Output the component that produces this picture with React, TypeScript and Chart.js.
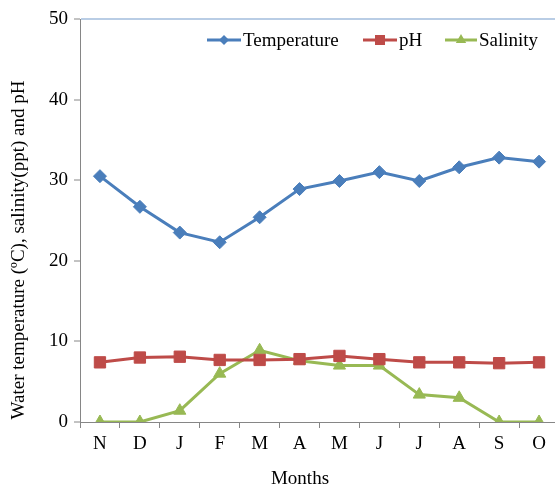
import React, { useEffect, useRef } from "react";
import { Chart, registerables } from "chart.js";

Chart.register(...registerables);

const months = ["N", "D", "J", "F", "M", "A", "M", "J", "J", "A", "S", "O"];
const temperature = [30.5, 26.7, 23.5, 22.3, 25.4, 28.9, 29.9, 31.0, 29.9, 31.6, 32.8, 32.3];
const pH = [7.4, 8.0, 8.1, 7.7, 7.7, 7.8, 8.2, 7.8, 7.4, 7.4, 7.3, 7.4];
const salinity = [0, 0, 1.4, 6.0, 8.9, 7.6, 7.0, 7.0, 3.4, 3.0, 0, 0];
const yTicks = [0, 10, 20, 30, 40, 50];

const X_TITLE = "Months";
const Y_TITLE = "Water temperature (\u00BAC), salinity(ppt) and pH";

const BLUE = "#4A7EBB";
const RED = "#BE4B48";
const GREEN = "#98B954";
const FONT = '"Liberation Serif", "Times New Roman", serif';

function drawMarker(ctx: CanvasRenderingContext2D, style: string, x: number, y: number, r: number) {
  ctx.beginPath();
  if (style === "diamond") {
    ctx.moveTo(x - r, y);
    ctx.lineTo(x, y - r);
    ctx.lineTo(x + r, y);
    ctx.lineTo(x, y + r);
  } else if (style === "square") {
    ctx.rect(x - r, y - r, 2 * r, 2 * r);
  } else {
    const a = (2 * Math.PI) / 3;
    ctx.moveTo(x, y - r);
    ctx.lineTo(x + Math.sin(a) * r, y - Math.cos(a) * r);
    ctx.lineTo(x + Math.sin(2 * a) * r, y - Math.cos(2 * a) * r);
  }
  ctx.closePath();
  ctx.fill();
}

const legendItems = [
  { text: "Temperature", color: BLUE, marker: "diamond", x0: 207, x1: 241, r: 5 },
  { text: "pH", color: RED, marker: "square", x0: 363, x1: 397, r: 5 },
  { text: "Salinity", color: GREEN, marker: "triangle", x0: 445, x1: 477, r: 6 },
];

const textPlugin = {
  id: "customText",
  afterDraw(chart: any) {
    const ctx: CanvasRenderingContext2D = chart.ctx;
    const area = chart.chartArea;
    ctx.save();
    ctx.font = `19px ${FONT}`;
    ctx.fillStyle = "#000";
    ctx.textAlign = "center";
    ctx.textBaseline = "middle";
    ctx.fillText(X_TITLE, 300, 479);
    ctx.save();
    ctx.translate(19, 250);
    ctx.rotate(-Math.PI / 2);
    ctx.fillText(Y_TITLE, 0, 0);
    ctx.restore();

    // legend
    const ly = area.top + 21;
    ctx.textAlign = "left";
    for (const it of legendItems) {
      ctx.strokeStyle = it.color;
      ctx.fillStyle = it.color;
      ctx.lineWidth = 3;
      ctx.beginPath();
      ctx.moveTo(it.x0, ly);
      ctx.lineTo(it.x1, ly);
      ctx.stroke();
      drawMarker(ctx, it.marker, (it.x0 + it.x1) / 2, ly, it.r);
      ctx.fillStyle = "#000";
      ctx.fillText(it.text, it.x1 + 2, ly + 1);
    }
    ctx.restore();
  },
};

export default function App() {
  const ref = useRef<HTMLCanvasElement | null>(null);
  useEffect(() => {
    if (!ref.current) return;
    const chart = new Chart(ref.current, {
      type: "line",
      data: {
        labels: months,
        datasets: [
          {
            label: "Temperature",
            data: temperature,
            borderColor: BLUE,
            backgroundColor: BLUE,
            borderWidth: 3,
            pointStyle: "rectRot",
            pointRadius: 6.5,
            pointBorderWidth: 1,
            tension: 0,
          },
          {
            label: "pH",
            data: pH,
            borderColor: RED,
            backgroundColor: RED,
            borderWidth: 3,
            pointStyle: "rect",
            pointRadius: 8,
            pointBorderWidth: 1,
            tension: 0,
          },
          {
            label: "Salinity",
            data: salinity,
            borderColor: GREEN,
            backgroundColor: GREEN,
            borderWidth: 3,
            pointStyle: "triangle",
            pointRadius: 7,
            pointBorderWidth: 1,
            tension: 0,
          },
        ],
      },
      options: {
        responsive: false,
        animation: false,
        layout: { padding: { left: 0, top: 19, right: 1, bottom: 0 } },
        plugins: {
          legend: { display: false },
          tooltip: { enabled: false },
        },
        scales: {
          x: {
            offset: true,
            grid: {
              offset: true,
              drawOnChartArea: false,
              drawTicks: true,
              tickLength: 6,
              tickColor: "#868686",
            },
            border: { color: "#868686", width: 1 },
            ticks: {
              color: "#000",
              font: { family: FONT, size: 19 },
              padding: 5,
              maxRotation: 0,
              autoSkip: false,
            },
            afterFit: (s: any) => {
              s.height = 66;
            },
          },
          y: {
            min: 0,
            max: 50,
            afterBuildTicks: (s: any) => {
              s.ticks = yTicks.map((v) => ({ value: v }));
            },
            grid: {
              color: (c: any) => (c.tick && c.tick.value === 50 ? "#B9CDE5" : "rgba(0,0,0,0)"),
              lineWidth: 2,
              tickLength: 6,
              tickColor: "#868686",
              tickWidth: 1,
            },
            border: { color: "#868686", width: 1 },
            ticks: {
              color: "#000",
              font: { family: FONT, size: 19 },
              padding: 6,
            },
            afterFit: (s: any) => {
              s.width = 80;
            },
          },
        },
      },
      plugins: [textPlugin],
    });
    return () => chart.destroy();
  }, []);

  return (
    <div style={{ position: "fixed", left: 0, top: 0, width: 555, height: 488, overflow: "hidden", background: "#fff" }}>
      <canvas ref={ref} width={568} height={488} style={{ display: "block" }} />
    </div>
  );
}
